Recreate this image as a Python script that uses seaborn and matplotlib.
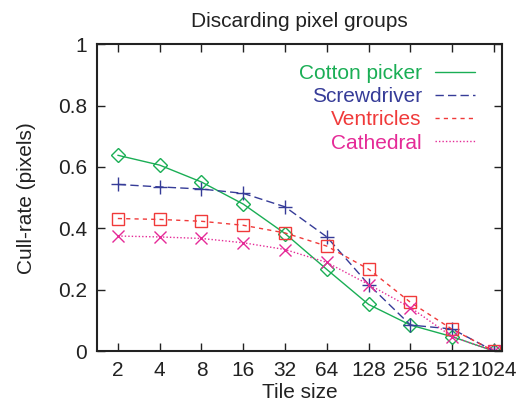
import numpy as np
import pandas as pd
import matplotlib
matplotlib.use("Agg")
import matplotlib.pyplot as plt
import seaborn as sns
from matplotlib.ticker import FixedLocator, FixedFormatter, NullLocator
from matplotlib.lines import Line2D

tile_sizes = [2, 4, 8, 16, 32, 64, 128, 256, 512, 1024]
cotton_picker = [0.638, 0.606, 0.551, 0.479, 0.383, 0.266, 0.152, 0.085, 0.047, 0.0]
screwdriver = [0.543, 0.535, 0.528, 0.514, 0.470, 0.372, 0.217, 0.085, 0.072, 0.0]
ventricles = [0.432, 0.429, 0.423, 0.410, 0.385, 0.342, 0.267, 0.159, 0.071, 0.0]
cathedral = [0.375, 0.372, 0.367, 0.353, 0.331, 0.289, 0.217, 0.142, 0.047, 0.0]
series_names = ["Cotton picker", "Screwdriver", "Ventricles", "Cathedral"]

sns.set_theme(style="white")
plt.rcParams["font.family"] = ["Liberation Sans", "DejaVu Sans"]

colors = ["#1aae55", "#363c98", "#f03a3a", "#e52a97"]
markers = ["D", "+", "s", "x"]
linestyles = ["-", (0, (6, 3)), (0, (3, 3)), (0, (1, 1.5))]
msizes = [7, 10, 9, 9]

fig = plt.figure(figsize=(5.24, 4.05), dpi=100)
ax = fig.add_axes([0.185, 0.133, 0.773, 0.758])

for name, vals, c, m, ls, ms in zip(series_names,
                                     [cotton_picker, screwdriver, ventricles, cathedral],
                                     colors, markers, linestyles, msizes):
    df = pd.DataFrame({"Tile size": tile_sizes, "value": vals})
    sns.lineplot(data=df, x="Tile size", y="value", ax=ax, color=c, linewidth=1.0,
                 linestyle=ls, marker=m, markersize=ms, markerfacecolor="none",
                 markeredgecolor=c, markeredgewidth=1.0, label=name)

ax.set_xscale("log", base=2)
ax.set_xlim(2 ** 0.5, 2 ** 10.19)
ax.set_ylim(0, 1)
ax.xaxis.set_major_locator(FixedLocator(tile_sizes))
ax.xaxis.set_major_formatter(FixedFormatter([str(t) for t in tile_sizes]))
ax.xaxis.set_minor_locator(NullLocator())
ax.set_yticks([0, 0.2, 0.4, 0.6, 0.8, 1.0])
ax.set_yticklabels(["0", "0.2", "0.4", "0.6", "0.8", "1"])
ax.tick_params(axis="both", which="major", direction="in", length=6, width=1.0,
               top=True, right=True, bottom=True, left=True, labelsize=15,
               colors="#222222", pad=7)
for sp in ax.spines.values():
    sp.set_color("#222222")
    sp.set_linewidth(1.5)

ax.set_xlabel("Tile size", fontsize=15, labelpad=2, color="#222222")
ax.set_ylabel("Cull-rate (pixels)", fontsize=15, labelpad=16, color="#222222")
ax.set_title("Discarding pixel groups", fontsize=15, pad=12, color="#222222")

handles = [Line2D([0], [0], color=c, linestyle=ls, linewidth=1.0) for c, ls in zip(colors, linestyles)]
leg = ax.legend(handles, series_names, loc="upper right", bbox_to_anchor=(0.933, 0.935),
                frameon=False, markerfirst=False, fontsize=15, handlelength=1.9,
                handletextpad=0.65, labelspacing=0.2, borderaxespad=0.0, borderpad=0.0)
for t, c in zip(leg.get_texts(), colors):
    t.set_color(c)

fig.savefig("out.png", dpi=100)
